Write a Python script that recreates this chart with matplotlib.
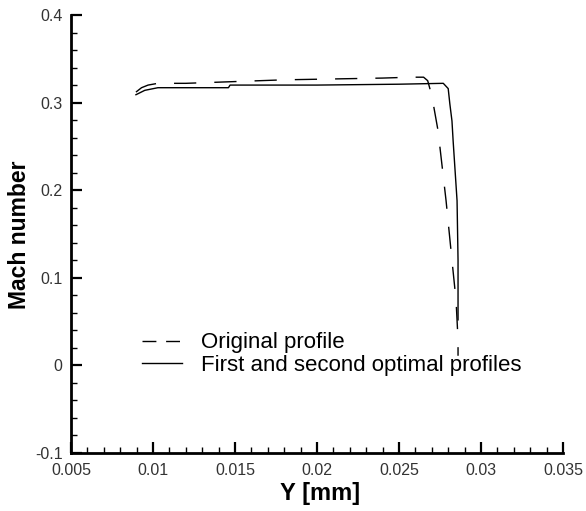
import matplotlib.pyplot as plt
from matplotlib.lines import Line2D

# DATA
orig_y = [0.00896, 0.0093, 0.0097, 0.0103, 0.0120, 0.0150, 0.0180, 0.0210, 0.0240,
          0.0257, 0.0265, 0.02675, 0.0270, 0.02738, 0.02787, 0.02823, 0.02848, 0.0286, 0.0286]
orig_mach = [0.312, 0.317, 0.320, 0.322, 0.322, 0.324, 0.326, 0.327, 0.328,
             0.329, 0.329, 0.325, 0.308, 0.268, 0.188, 0.120, 0.074, 0.029, 0.011]

opt_y = [0.00896, 0.0095, 0.0103, 0.0125, 0.0146, 0.0147, 0.0200, 0.0250, 0.0277,
         0.0280, 0.0281, 0.02823, 0.0283, 0.02854, 0.0286, 0.0286]
opt_mach = [0.309, 0.314, 0.317, 0.317, 0.317, 0.320, 0.320, 0.321, 0.322,
            0.316, 0.2986, 0.279, 0.2565, 0.188, 0.120, 0.052]

x_ticks = [0.005, 0.01, 0.015, 0.02, 0.025, 0.03, 0.035]
x_labels = ["0.005", "0.01", "0.015", "0.02", "0.025", "0.03", "0.035"]
y_ticks = [-0.1, 0, 0.1, 0.2, 0.3, 0.4]
y_labels = ["-0.1", "0", "0.1", "0.2", "0.3", "0.4"]

labels = ["Original profile", "First and second optimal profiles"]

plt.rcParams['font.family'] = ['Liberation Sans', 'DejaVu Sans']

fig = plt.figure(figsize=(5.86, 5.11), dpi=100)
ax = fig.add_axes([71 / 586, 1 - 453 / 511, 492 / 586, 438 / 511])

ax.plot(orig_y, orig_mach, color='black', lw=1.0, dashes=(16, 13))
ax.plot(opt_y, opt_mach, color='black', lw=1.0)

ax.set_xlim(0.005, 0.035)
ax.set_ylim(-0.1, 0.4)
ax.set_xticks(x_ticks)
ax.set_xticklabels(x_labels)
ax.set_yticks(y_ticks)
ax.set_yticklabels(y_labels)
ax.set_xticks([0.005 + 0.001 * i for i in range(31)], minor=True)
ax.set_yticks([-0.1 + 0.02 * i for i in range(26)], minor=True)

for s in ['top', 'right']:
    ax.spines[s].set_visible(False)
for s in ['left', 'bottom']:
    ax.spines[s].set_linewidth(2)

ax.tick_params(which='major', direction='in', length=8, width=1.6,
               labelsize=11.5, labelcolor='#333333')
ax.tick_params(axis='x', which='major', pad=7)
ax.tick_params(axis='y', which='major', pad=6)
ax.tick_params(which='minor', direction='in', length=4.3, width=1)

fig.text(320 / 586, 1 - 493 / 511, "Y [mm]", fontsize=17, fontweight='bold',
         ha='center', va='center')
fig.text(20 / 586, 1 - 235 / 511, "Mach number", fontsize=16.5, fontweight='bold',
         ha='center', va='center', rotation=90)

handles = [Line2D([], [], color='black', lw=1.0, dashes=(10, 7)),
           Line2D([], [], color='black', lw=1.0)]
ax.legend(handles, labels, loc='center left', bbox_to_anchor=(71 / 492, 0.226),
          frameon=False, fontsize=16, handlelength=1.8, handletextpad=0.85,
          labelspacing=0.05, borderpad=0, borderaxespad=0)

fig.savefig("out.png", dpi=100)
